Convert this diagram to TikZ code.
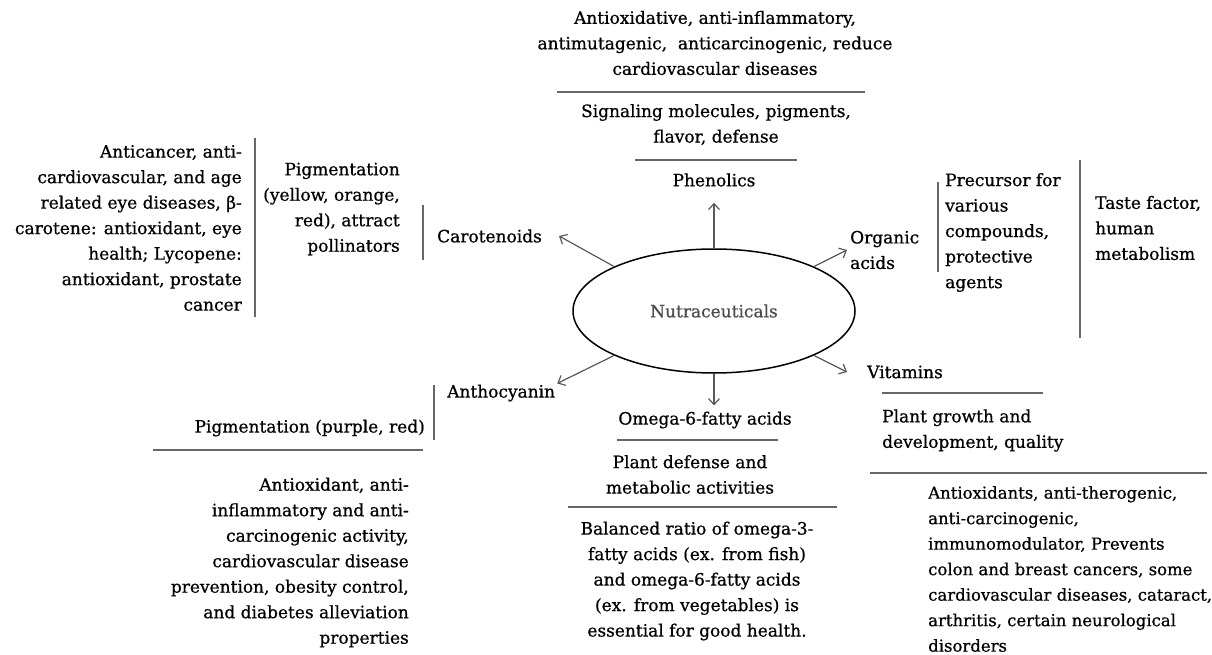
\documentclass[tikz,border=0pt]{standalone}
\usepackage{fontspec}
\setmainfont{DejaVu Serif}[FakeBold=0.7]
\usetikzlibrary{arrows.meta,shapes.geometric}
\newcommand\fs{\fontsize{17}{25.5}\selectfont}
\newcommand\fsv{\fontsize{16.5}{25.5}\selectfont}
\begin{document}
\begin{tikzpicture}[x=1pt,y=-1pt,
  txt/.style={inner sep=0pt, font=\fs},
  sepline/.style={draw=black!60, line width=1.4pt},
  arr/.style={draw=black!65, line width=1.2pt, -{Straight Barb[length=6pt,width=11pt]}}]
\fill[white] (0,0) rectangle (1212,655);
\useasboundingbox (0,0) rectangle (1212,655);

\node[ellipse, draw, line width=1.5pt, minimum width=282pt, minimum height=124pt, inner sep=0pt, text=black!70, font=\fs] (nut) at (714,311) {Nutraceuticals};

% Phenolics
\node[txt, align=center] (phenE) at (715,43) {Antioxidative, anti-inflammatory,\\antimutagenic,\ \ anticarcinogenic, reduce\\cardiovascular diseases};
\draw[sepline] (557,92) -- (865,92);
\node[txt, align=center] (phenF) at (716,124.5) {Signaling molecules, pigments,\\flavor, defense};
\draw[sepline] (635,160) -- (797,160);
\node[txt] (phen) at (714,180) {Phenolics};

% Carotenoids
\node[txt, align=right, anchor=east] (carE) at (242,228) {Anticancer, anti-\\cardiovascular, and age\\related eye diseases, β-\\carotene: antioxidant, eye\\health; Lycopene:\\antioxidant, prostate\\cancer};
\draw[sepline] (255,138) -- (255,317);
\node[txt, align=right, anchor=east] (carF) at (400,209) {Pigmentation\\(yellow, orange,\\red), attract\\pollinators};
\draw[sepline] (423,205) -- (423,260);
\node[txt, anchor=west] (carot) at (437,236) {Carotenoids};

% Organic acids
\node[txt, align=left, anchor=west] (org) at (850,250) {Organic\\acids};
\draw[sepline] (938,182) -- (938,272);
\node[txt, align=left, anchor=west] (orgF) at (945,232.5) {Precursor for\\various\\compounds,\\protective\\agents};
\draw[sepline] (1080,160) -- (1080,338);
\node[txt, align=left, anchor=west] (orgE) at (1095,228) {Taste factor,\\human\\metabolism};

% Vitamins
\node[txt, anchor=west] (vit) at (867,372) {Vitamins};
\draw[sepline] (882,393) -- (1043,393);
\node[txt, align=left, anchor=west] (vitF) at (882,430.5) {Plant growth and\\development, quality};
\draw[sepline] (870,473) -- (1207,473);
\node[txt, font=\fsv, align=left, anchor=west] (vitE) at (928,569) {Antioxidants, anti-therogenic,\\anti-carcinogenic,\\immunomodulator, Prevents\\colon and breast cancers, some\\cardiovascular diseases, cataract,\\arthritis, certain neurological\\disorders};

% Anthocyanin
\node[txt, anchor=west] (antho) at (447,393) {Anthocyanin};
\draw[sepline] (434,385) -- (434,440);
\node[txt, anchor=east] (anthoF) at (425,428) {Pigmentation (purple, red)};
\draw[sepline] (153,450) -- (423,450);
\node[txt, align=right, anchor=east] (anthoE) at (409,562.5) {Antioxidant, anti-\\inflammatory and anti-\\carcinogenic activity,\\cardiovascular disease\\prevention, obesity control,\\and diabetes alleviation\\properties};

% Omega
\node[txt] (omega) at (705,420) {Omega-6-fatty acids};
\draw[sepline] (617,440) -- (778,440);
\node[txt, align=center] (omegaF) at (690,474.5) {Plant defense and\\metabolic activities};
\draw[sepline] (568,507) -- (837,507);
\node[txt, align=center] (omegaE) at (697,581) {Balanced ratio of omega-3-\\fatty acids (ex. from fish)\\and omega-6-fatty acids\\(ex. from vegetables) is\\essential for good health.};

% Arrows
\draw[arr] (nut.90) -- ([yshift=-16pt]phen.south);
\draw[arr] (nut.156) -- ([xshift=17pt]carot.east);
\draw[arr] (nut.24) -- ([xshift=-3pt]org.west);
\draw[arr] (nut.204) -- ([xshift=2pt,yshift=1pt]antho.north east);
\draw[arr] (nut.270) -- ([yshift=6pt]nut.270 |- omega.north);
\draw[arr] (nut.336) -- ([xshift=-20pt]vit.west);
\end{tikzpicture}
\end{document}
